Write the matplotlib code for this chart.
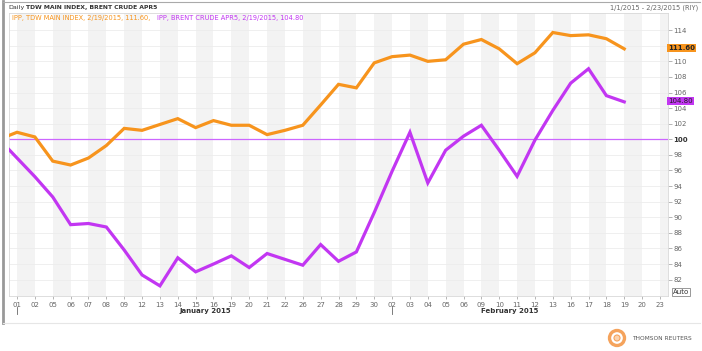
import matplotlib.pyplot as plt
from matplotlib.patches import Ellipse
from matplotlib.lines import Line2D

# trading days; Dec 31 is the rebase day (=100), drawn just off the left edge
day_labels = ["01", "02", "05", "06", "07", "08", "09", "12", "13", "14", "15", "16",
              "19", "20", "21", "22", "26", "27", "28", "29", "30",
              "02", "03", "04", "05", "06", "09", "10", "11", "12", "13", "16",
              "17", "18", "19", "20", "23"]
tdw = [100.0, 100.9, 100.3, 97.2, 96.7, 97.6, 99.2, 101.4, 101.15, 101.9, 102.65,
       101.5, 102.4, 101.8, 101.8, 100.6, 101.15, 101.8, 104.4, 107.05, 106.6,
       109.8, 110.6, 110.8, 110.0, 110.2, 112.2, 112.8, 111.6, 109.7, 111.1,
       113.7, 113.3, 113.4, 112.9, 111.6]
brent = [100.0, 97.6, 95.2, 92.6, 89.05, 89.2, 88.75, 85.8, 82.6, 81.2, 84.8,
         83.0, 84.0, 85.05, 83.55, 85.35, 84.6, 83.85, 86.5, 84.35, 85.55,
         90.6, 95.9, 100.9, 94.4, 98.6, 100.4, 101.8, 98.6, 95.25, 99.9,
         103.7, 107.2, 109.05, 105.6, 104.8]
y_ticks = list(range(82, 116, 2))

W, H = 702, 351
ORANGE = "#F7941D"
PURPLE = "#C236F2"
GREY = "#666666"


def fx(x):
    return x / W


def fy(y):
    return 1 - y / H


fig = plt.figure(figsize=(W / 100, H / 100), dpi=100)
ax = fig.add_axes([fx(9), fy(296), fx(668) - fx(9), fy(13) - fy(296)])

x = list(range(-1, len(tdw) - 1))
ax.set_xlim(-0.45, 36.45)
ax.set_ylim(79.9, 116.2)

for i in range(0, 37, 2):
    ax.axvspan(i, i + 1, color="#F3F3F3", lw=0, zorder=0)
for v in y_ticks:
    ax.axhline(v, color="#EDEDED", lw=0.6, zorder=0.5)
ax.axhline(100, color="#CC66FF", lw=0.9, zorder=1)

ax.plot(x, tdw, color=ORANGE, lw=2.3, solid_joinstyle="miter", zorder=3)
ax.plot(x, brent, color=PURPLE, lw=2.3, solid_joinstyle="miter", zorder=3)

ax.set_xticks(range(37))
ax.set_xticklabels(day_labels, fontsize=5, color=GREY)
ax.tick_params(axis="x", length=2, width=0.5, color="#999999", pad=2)
ax.yaxis.tick_right()
ax.set_yticks(y_ticks)
# 112 sits under the last-value box, as in the original
ax.set_yticklabels(["" if v == 112 else str(v) for v in y_ticks],
                   fontsize=5, color=GREY)
ax.tick_params(axis="y", length=3, width=0.5, color="#999999", pad=1)
for lab in ax.get_yticklabels():
    if lab.get_text() == "100":
        lab.set_fontweight("bold")
        lab.set_color("#333333")
for s in ax.spines.values():
    s.set_color("#D8D8D8")
    s.set_linewidth(0.6)

# header and legend line
fig.text(fx(8), fy(7), "Daily", fontsize=4.6, color="#333333", va="center")
fig.text(fx(26), fy(7), "TDW MAIN INDEX, BRENT CRUDE APR5", fontsize=4.4,
         color="#333333", fontweight="bold", va="center")
fig.text(fx(698), fy(8), "1/1/2015 - 2/23/2015 (RIY)", fontsize=4.8, color=GREY,
         ha="right", va="center")
fig.text(fx(12), fy(18), "IPP, TDW MAIN INDEX, 2/19/2015, 111.60, ", fontsize=4.8,
         color=ORANGE, va="center")
fig.text(fx(157), fy(18), "IPP, BRENT CRUDE APR5, 2/19/2015, 104.80", fontsize=4.8,
         color=PURPLE, va="center")

# last-value boxes on the right axis
fig.text(fx(668), fy(48), "111.60", fontsize=5, fontweight="bold", color="#222222",
         va="center", bbox=dict(boxstyle="square,pad=0.15", fc=ORANGE, ec="none"))
fig.text(fx(668), fy(101), "104.80", fontsize=5, color="#222222", va="center",
         bbox=dict(boxstyle="square,pad=0.15", fc=PURPLE, ec="none"))
fig.text(fx(673), fy(292), "Auto", fontsize=5, color="#333333", va="center",
         bbox=dict(boxstyle="square,pad=0.15", fc="white", ec="#888888", lw=0.6))

# month labels
fig.text(fx(205), fy(311), "January 2015", fontsize=5, fontweight="bold",
         color="#333333", ha="center", va="center")
fig.text(fx(510), fy(311), "February 2015", fontsize=5, fontweight="bold",
         color="#333333", ha="center", va="center")
for px in (17, 392):
    fig.add_artist(Line2D([fx(px), fx(px)], [fy(307), fy(314)], color=GREY, lw=0.6))

# outer frame
fig.add_artist(Line2D([fx(3), fx(3)], [fy(1), fy(323)], color="#999999", lw=2))
fig.add_artist(Line2D([fx(3), fx(700)], [fy(1.5), fy(1.5)], color="#AAAAAA", lw=0.8))
fig.add_artist(Line2D([fx(3), fx(700)], [fy(323), fy(323)], color="#E6E6E6", lw=0.8))

# logo
fig.add_artist(Ellipse((fx(617), fy(338)), 15 / W, 15 / H, transform=fig.transFigure,
                       fc="none", ec="#F5A35C", lw=2.4))
fig.add_artist(Ellipse((fx(617), fy(338)), 6 / W, 6 / H, transform=fig.transFigure,
                       fc="#FBD3AE", ec="#F5A35C", lw=0.8))
fig.text(fx(632), fy(338), "THOMSON REUTERS", fontsize=4.2, color="#555555",
         va="center")

fig.savefig("out.png", dpi=100)
